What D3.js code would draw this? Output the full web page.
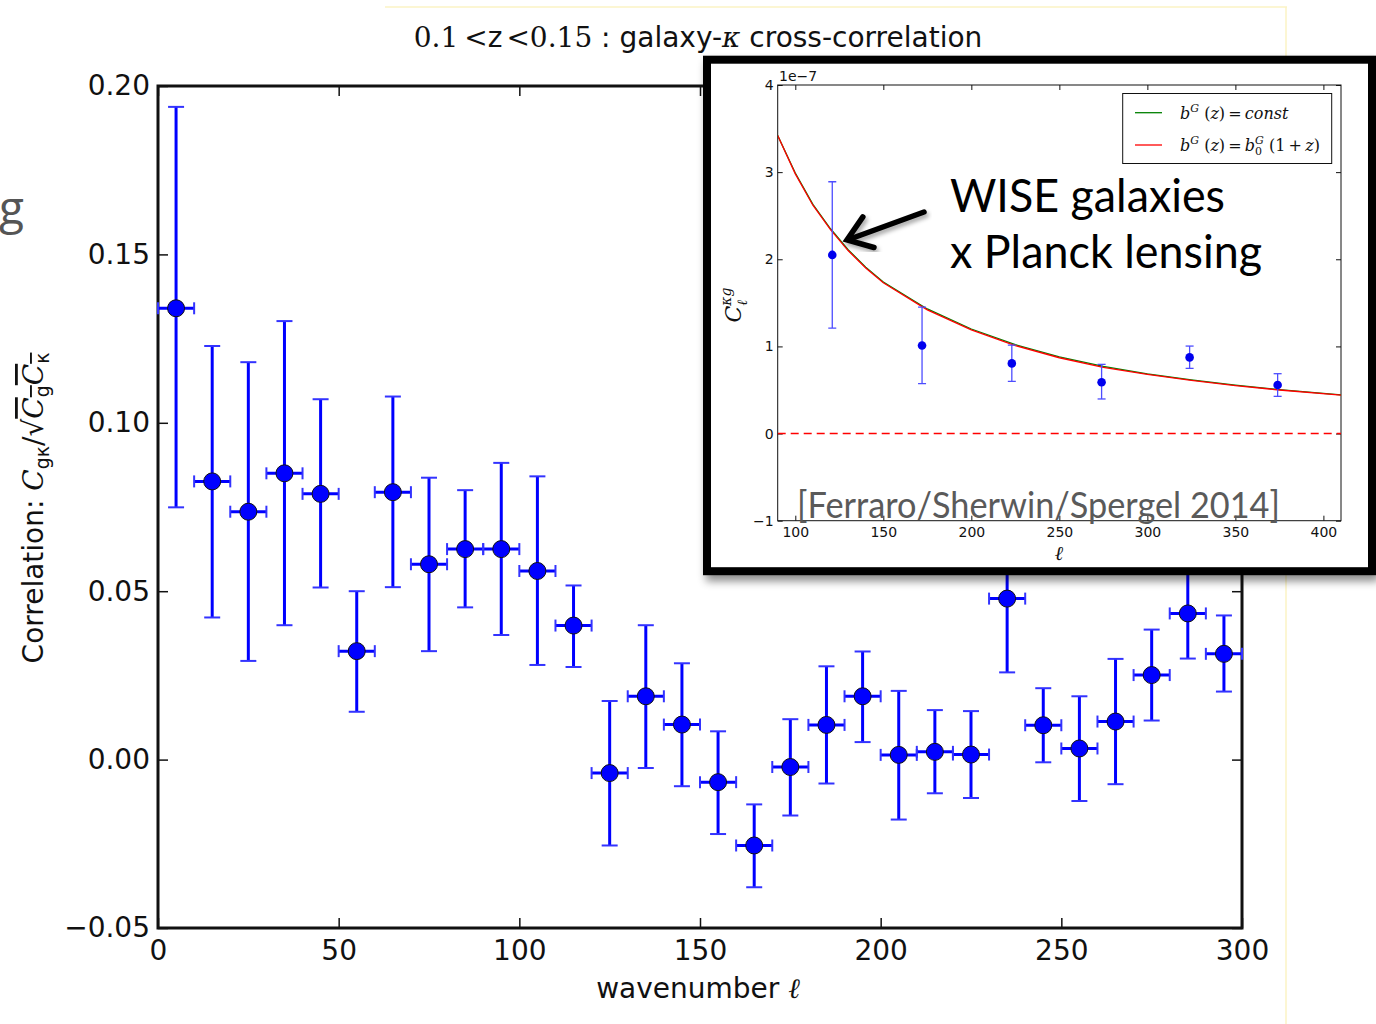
<!DOCTYPE html>
<html>
<head>
<meta charset="utf-8">
<script src="https://cdn.jsdelivr.net/npm/d3@7"></script>
<style>
  body { margin: 0; background: #fff; }
  svg { display: block; }
  .tick text { font-family: "DejaVu Sans", sans-serif; }
</style>
</head>
<body>
<svg id="chart" width="1376" height="1024"></svg>
<script>
// main plot: galaxy-kappa correlation per wavenumber bin
const ell = [5, 15, 25, 35, 45, 55, 65, 75, 85, 95, 105, 115, 125, 135, 145,
  155, 165, 175, 185, 195, 205, 215, 225, 235, 245, 255, 265, 275, 285, 295];
const corr = [0.134, 0.0826, 0.0736, 0.085, 0.0789, 0.0322, 0.0794, 0.058, 0.0625, 0.0625,
  0.056, 0.0398, -0.004, 0.0188, 0.0104, -0.0067, -0.0255, -0.0022, 0.0103, 0.0188,
  0.0014, 0.0023, 0.0015, 0.0478, 0.0102, 0.0033, 0.0113, 0.0251, 0.0434, 0.0314];
const corrTop = [0.1938, 0.1228, 0.118, 0.1302, 0.107, 0.050, 0.1078, 0.0837, 0.080, 0.0881,
  0.0841, 0.0517, 0.0174, 0.0399, 0.0286, 0.0084, -0.0133, 0.012, 0.0277, 0.0321,
  0.0204, 0.0147, 0.0144, 0.070, 0.0212, 0.0188, 0.0299, 0.0386, 0.057, 0.0428];
const corrBot = [0.0749, 0.0422, 0.0293, 0.0399, 0.0511, 0.0142, 0.0512, 0.0322, 0.0452, 0.037,
  0.0281, 0.0275, -0.0255, -0.0025, -0.0079, -0.0221, -0.0379, -0.0166, -0.0071, 0.0052,
  -0.0178, -0.010, -0.0114, 0.0259, -0.0008, -0.0123, -0.0073, 0.0116, 0.030, 0.0202];
const binHalf = 5;
const xTicks = [0, 50, 100, 150, 200, 250, 300];
const yTicks = [-0.05, 0, 0.05, 0.10, 0.15, 0.20];

// inset: WISE x Planck lensing
const insetEll = [121, 172, 223, 274, 324, 374];
const insetC = [2.05, 1.01, 0.805, 0.588, 0.874, 0.557];
const insetTop = [2.89, 1.45, 1.015, 0.794, 1.004, 0.687];
const insetBot = [1.21, 0.573, 0.599, 0.397, 0.748, 0.427];
const theoryEll = [90, 100, 110, 120, 130, 140, 150, 175, 200, 225, 250, 275, 300, 325, 350, 375, 410];
const theoryConst = [3.42, 2.99, 2.63, 2.35, 2.11, 1.91, 1.74, 1.43, 1.20, 1.02, 0.88, 0.77, 0.685, 0.615, 0.555, 0.505, 0.445];
const theoryEvol = [3.42, 2.98, 2.62, 2.34, 2.10, 1.90, 1.73, 1.42, 1.19, 1.01, 0.87, 0.76, 0.68, 0.61, 0.55, 0.50, 0.44];
const insetXTicks = [100, 150, 200, 250, 300, 350, 400];
const insetYTicks = [-1, 0, 1, 2, 3, 4];

const svg = d3.select("#chart");

const defs = svg.append("defs");
defs.append("filter").attr("id", "shadow").attr("x", "-10%").attr("y", "-10%").attr("width", "130%").attr("height", "130%")
  .append("feDropShadow").attr("dx", 3).attr("dy", 6).attr("stdDeviation", 4)
  .attr("flood-color", "#000").attr("flood-opacity", 0.45);
defs.append("filter").attr("id", "arrowShadow")
  .append("feDropShadow").attr("dx", 2).attr("dy", 3).attr("stdDeviation", 2)
  .attr("flood-color", "#000").attr("flood-opacity", 0.35);
defs.append("clipPath").attr("id", "insetClip")
  .append("rect").attr("x", 777.7).attr("y", 85).attr("width", 1341 - 777.7).attr("height", 520.7 - 85);

// faint slide edge
svg.append("line").attr("x1", 385).attr("x2", 1287).attr("y1", 7).attr("y2", 7)
  .attr("stroke", "#fbf3c4").attr("stroke-width", 1.5);
svg.append("line").attr("x1", 1286).attr("x2", 1286).attr("y1", 7).attr("y2", 1024)
  .attr("stroke", "#fbf3c4").attr("stroke-width", 1.5);

// cut-off slide text on the left
svg.append("text").attr("x", -1).attr("y", 224).text("g")
  .attr("font-family", "Open Sans, sans-serif").attr("font-size", 46).attr("fill", "#555");

// ---------- main plot ----------
const x = d3.scaleLinear().domain([0, 300]).range([158, 1242]);
const y = d3.scaleLinear().domain([-0.05, 0.2]).range([928, 86]);

const main = svg.append("g");

const fmt = d3.format(".2f");
main.append("g").attr("transform", "translate(0,928)")
  .call(d3.axisBottom(x).tickValues(xTicks).tickSizeInner(-10).tickSizeOuter(0).tickPadding(12))
  .call(g => g.select(".domain").remove())
  .call(g => g.selectAll("text").attr("font-size", 28).attr("fill", "#111"));
main.append("g").attr("transform", "translate(0,86)")
  .call(d3.axisTop(x).tickValues(xTicks).tickSizeInner(-10).tickSizeOuter(0).tickFormat(""))
  .call(g => g.select(".domain").remove());
main.append("g").attr("transform", "translate(158,0)")
  .call(d3.axisLeft(y).tickValues(yTicks).tickSizeInner(-10).tickSizeOuter(0).tickPadding(8).tickFormat(fmt))
  .call(g => g.select(".domain").remove())
  .call(g => g.selectAll("text").attr("font-size", 28).attr("fill", "#111"));
main.append("g").attr("transform", "translate(1242,0)")
  .call(d3.axisRight(y).tickValues(yTicks).tickSizeInner(-10).tickSizeOuter(0).tickFormat(""))
  .call(g => g.select(".domain").remove());
main.selectAll(".tick line").attr("stroke", "#111").attr("stroke-width", 1.5);

main.append("rect").attr("x", 158).attr("y", 86).attr("width", 1242 - 158).attr("height", 928 - 86)
  .attr("fill", "none").attr("stroke", "#111").attr("stroke-width", 3);

const pts = ell.map((l, i) => ({ l, v: corr[i], top: corrTop[i], bot: corrBot[i] }));
const bars = main.append("g");
// vertical error bars
bars.selectAll(".vbar").data(pts).join("line").attr("class", "vbar")
  .attr("x1", d => x(d.l)).attr("x2", d => x(d.l))
  .attr("y1", d => y(d.top)).attr("y2", d => y(d.bot))
  .attr("stroke", "#0000ff").attr("stroke-width", 3);
// horizontal error bars
bars.selectAll(".hbar").data(pts).join("line").attr("class", "hbar")
  .attr("x1", d => x(d.l - binHalf)).attr("x2", d => x(d.l + binHalf))
  .attr("y1", d => y(d.v)).attr("y2", d => y(d.v))
  .attr("stroke", "#0000ff").attr("stroke-width", 3);
// caps
const capV = [];
pts.forEach(d => { capV.push({ l: d.l, v: d.top }); capV.push({ l: d.l, v: d.bot }); });
bars.selectAll(".capv").data(capV).join("line").attr("class", "capv")
  .attr("x1", d => x(d.l) - 8).attr("x2", d => x(d.l) + 8)
  .attr("y1", d => y(d.v)).attr("y2", d => y(d.v))
  .attr("stroke", "#3333ff").attr("stroke-width", 2);
const capH = [];
pts.forEach(d => { capH.push({ l: d.l - binHalf, v: d.v }); capH.push({ l: d.l + binHalf, v: d.v }); });
bars.selectAll(".caph").data(capH).join("line").attr("class", "caph")
  .attr("x1", d => x(d.l)).attr("x2", d => x(d.l))
  .attr("y1", d => y(d.v) - 6).attr("y2", d => y(d.v) + 6)
  .attr("stroke", "#3333ff").attr("stroke-width", 2);
bars.selectAll("circle").data(pts).join("circle")
  .attr("cx", d => x(d.l)).attr("cy", d => y(d.v)).attr("r", 8.5)
  .attr("fill", "#0000ff").attr("stroke", "#111").attr("stroke-width", 1);

// title
const title = svg.append("text").attr("x", 698).attr("y", 47).attr("text-anchor", "middle")
  .attr("font-size", 28).attr("fill", "#111");
title.append("tspan").attr("font-family", "DejaVu Serif, serif").text("0.1");
title.append("tspan").attr("font-family", "DejaVu Serif, serif").attr("dx", 6).text("<");
title.append("tspan").attr("font-family", "DejaVu Sans, sans-serif").text("z");
title.append("tspan").attr("font-family", "DejaVu Serif, serif").attr("dx", 4).text("<0.15");
title.append("tspan").attr("font-family", "DejaVu Sans, sans-serif").text(" : galaxy-");
title.append("tspan").attr("font-family", "DejaVu Serif, serif").attr("font-style", "italic").text("κ");
title.append("tspan").attr("font-family", "DejaVu Sans, sans-serif").text(" cross-correlation");

// x label
const xl = svg.append("text").attr("x", 698).attr("y", 998).attr("text-anchor", "middle")
  .attr("font-family", "DejaVu Sans, sans-serif").attr("font-size", 28).attr("fill", "#111");
xl.append("tspan").text("wavenumber ");
xl.append("tspan").attr("font-family", "DejaVu Serif, serif").attr("font-style", "italic").text("ℓ");

// y label
const yl = svg.append("text").attr("transform", "translate(43,508) rotate(-90)").attr("text-anchor", "middle")
  .attr("font-family", "DejaVu Sans, sans-serif").attr("font-size", 28).attr("fill", "#111");
yl.append("tspan").text("Correlation: ");
yl.append("tspan").attr("font-family", "DejaVu Serif, serif").attr("font-style", "italic").text("C");
yl.append("tspan").attr("font-size", 19).attr("dy", 6).text("gκ");
yl.append("tspan").attr("dy", -6).attr("font-family", "DejaVu Serif, serif").text("/√");
yl.append("tspan").attr("font-family", "DejaVu Serif, serif").attr("font-style", "italic")
  .attr("text-decoration", "overline").text("C");
yl.append("tspan").attr("font-size", 19).attr("dy", 6).attr("text-decoration", "overline").text("g");
yl.append("tspan").attr("dy", -6).attr("font-family", "DejaVu Serif, serif").attr("font-style", "italic")
  .attr("text-decoration", "overline").text("C");
yl.append("tspan").attr("font-size", 19).attr("dy", 6).attr("text-decoration", "overline").text("κ");

// ---------- inset ----------
const inset = svg.append("g");
inset.append("rect").attr("x", 707).attr("y", 59.7).attr("width", 665).attr("height", 511.5)
  .attr("fill", "#fff").attr("stroke", "#000").attr("stroke-width", 8).attr("filter", "url(#shadow)");

const ix = d3.scaleLinear().domain([90, 410]).range([777.7, 1341]);
const iy = d3.scaleLinear().domain([-1, 4]).range([520.7, 85]);

inset.append("g").attr("transform", "translate(0,520.7)")
  .call(d3.axisBottom(ix).tickValues(insetXTicks).tickSizeInner(-5).tickSizeOuter(0).tickPadding(6))
  .call(g => g.select(".domain").remove())
  .call(g => g.selectAll("text").attr("font-size", 14).attr("fill", "#111"));
inset.append("g").attr("transform", "translate(0,85)")
  .call(d3.axisTop(ix).tickValues(insetXTicks).tickSizeInner(-5).tickSizeOuter(0).tickFormat(""))
  .call(g => g.select(".domain").remove());
inset.append("g").attr("transform", "translate(777.7,0)")
  .call(d3.axisLeft(iy).tickValues(insetYTicks).tickSizeInner(-5).tickSizeOuter(0).tickPadding(4).tickFormat(d3.format("d")))
  .call(g => g.select(".domain").remove())
  .call(g => g.selectAll("text").attr("font-size", 14).attr("fill", "#111"));
inset.append("g").attr("transform", "translate(1341,0)")
  .call(d3.axisRight(iy).tickValues(insetYTicks).tickSizeInner(-5).tickSizeOuter(0).tickFormat(""))
  .call(g => g.select(".domain").remove());
inset.selectAll(".tick line").attr("stroke", "#111").attr("stroke-width", 1);

inset.append("rect").attr("x", 777.7).attr("y", 85).attr("width", 1341 - 777.7).attr("height", 520.7 - 85)
  .attr("fill", "none").attr("stroke", "#111").attr("stroke-width", 1);

inset.append("text").attr("x", 779).attr("y", 81).text("1e−7")
  .attr("font-family", "DejaVu Sans, sans-serif").attr("font-size", 14).attr("fill", "#111");

const iplot = inset.append("g").attr("clip-path", "url(#insetClip)");
iplot.append("line").attr("x1", ix(90)).attr("x2", ix(410)).attr("y1", iy(0)).attr("y2", iy(0))
  .attr("stroke", "#ff0000").attr("stroke-width", 1.5).attr("stroke-dasharray", "8,5");
const iline = d3.line().x(d => ix(d[0])).y(d => iy(d[1]));
iplot.append("path").attr("d", iline(theoryEll.map((l, i) => [l, theoryConst[i]])))
  .attr("fill", "none").attr("stroke", "#008000").attr("stroke-width", 1.3);
iplot.append("path").attr("d", iline(theoryEll.map((l, i) => [l, theoryEvol[i]])))
  .attr("fill", "none").attr("stroke", "#ff0000").attr("stroke-width", 1.3);

const ipts = insetEll.map((l, i) => ({ l, v: insetC[i], top: insetTop[i], bot: insetBot[i] }));
iplot.selectAll(".ibar").data(ipts).join("line").attr("class", "ibar")
  .attr("x1", d => ix(d.l)).attr("x2", d => ix(d.l)).attr("y1", d => iy(d.top)).attr("y2", d => iy(d.bot))
  .attr("stroke", "#4d4dff").attr("stroke-width", 1.3);
const icaps = [];
ipts.forEach(d => { icaps.push({ l: d.l, v: d.top }); icaps.push({ l: d.l, v: d.bot }); });
iplot.selectAll(".icap").data(icaps).join("line").attr("class", "icap")
  .attr("x1", d => ix(d.l) - 4).attr("x2", d => ix(d.l) + 4).attr("y1", d => iy(d.v)).attr("y2", d => iy(d.v))
  .attr("stroke", "#4d4dff").attr("stroke-width", 1.3);
iplot.selectAll("circle").data(ipts).join("circle")
  .attr("cx", d => ix(d.l)).attr("cy", d => iy(d.v)).attr("r", 4.3).attr("fill", "#0000ee");

// inset axis labels
const iyl = inset.append("text").attr("transform", "translate(741,305) rotate(-90)").attr("text-anchor", "middle")
  .attr("font-family", "DejaVu Serif, serif").attr("font-style", "italic").attr("font-size", 22).attr("fill", "#111");
iyl.append("tspan").text("C");
iyl.append("tspan").attr("font-size", 14).attr("dy", 6).text("ℓ");
iyl.append("tspan").attr("font-size", 14).attr("dx", -6).attr("dy", -16).text("κg");
inset.append("text").attr("x", 1059).attr("y", 560).attr("text-anchor", "middle")
  .attr("font-family", "DejaVu Serif, serif").attr("font-style", "italic").attr("font-size", 20).attr("fill", "#111").text("ℓ");

// legend
const leg = inset.append("g");
leg.append("rect").attr("x", 1122.7).attr("y", 93.5).attr("width", 209).attr("height", 70)
  .attr("fill", "#fff").attr("stroke", "#111").attr("stroke-width", 1);
const thin = "\u2009";
const legItems = [
  { color: "#008000", y: 112.7, parts: [["b", 0, 0, 1], ["G", -7, 11, 1], [" (", 0], ["z", 0, 0, 1], [")", 0], [thin + "=" + thin, 0], ["const", 0, 0, 1]] },
  { color: "#ff0000", y: 145, parts: [["b", 0, 0, 1], ["G", -7, 11, 1], [" (", 0], ["z", 0, 0, 1], [")", 0], [thin + "=" + thin, 0], ["b", 0, 0, 1], ["0", 4, 11], ["G", -7, 11, 1, -7], [" (1" + thin + "+" + thin, 0], ["z", 0, 0, 1], [")", 0]] }
];
legItems.forEach(it => {
  leg.append("line").attr("x1", 1135).attr("x2", 1162).attr("y1", it.y).attr("y2", it.y)
    .attr("stroke", it.color).attr("stroke-width", 1.3);
  const t = leg.append("text").attr("x", 1180).attr("y", it.y + 6).attr("xml:space", "preserve")
    .attr("font-family", "DejaVu Serif, serif").attr("font-size", 16).attr("fill", "#111");
  let prevShift = 0;
  it.parts.forEach(p => {
    const s = t.append("tspan").text(p[0]).attr("dy", p[1] - prevShift);
    if (p[2]) s.attr("font-size", p[2]);
    if (p[3]) s.attr("font-style", "italic");
    if (p[4]) s.attr("dx", p[4]);
    prevShift = p[1];
  });
});

// annotation
inset.append("text").attr("x", 950).attr("y", 212).text("WISE galaxies")
  .attr("font-family", "Lato, sans-serif").attr("font-size", 46).attr("fill", "#000")
  .attr("textLength", 275).attr("lengthAdjust", "spacingAndGlyphs");
inset.append("text").attr("x", 950).attr("y", 268).text("x Planck lensing")
  .attr("font-family", "Lato, sans-serif").attr("font-size", 46).attr("fill", "#000")
  .attr("textLength", 312).attr("lengthAdjust", "spacingAndGlyphs");

const tail = [924, 212], tip = [847, 240];
const ang = Math.atan2(tail[1] - tip[1], tail[0] - tip[0]);
const armLen = 28, spread = 0.62;
const arrow = inset.append("g").attr("filter", "url(#arrowShadow)")
  .attr("stroke", "#000").attr("stroke-width", 5.5).attr("stroke-linecap", "round").attr("fill", "none");
arrow.append("line").attr("x1", tail[0]).attr("y1", tail[1]).attr("x2", tip[0] + 3).attr("y2", tip[1] - 1);
arrow.append("path").attr("stroke-linejoin", "miter")
  .attr("d", `M${tip[0] + armLen * Math.cos(ang - spread)},${tip[1] + armLen * Math.sin(ang - spread)}` +
    `L${tip[0]},${tip[1]}L${tip[0] + armLen * Math.cos(ang + spread)},${tip[1] + armLen * Math.sin(ang + spread)}`);

inset.append("text").attr("x", 797).attr("y", 518).text("[Ferraro/Sherwin/Spergel 2014]")
  .attr("font-family", "Lato, sans-serif").attr("font-size", 36).attr("fill", "#5a5a5a")
  .attr("textLength", 483).attr("lengthAdjust", "spacingAndGlyphs");
</script>
</body>
</html>
